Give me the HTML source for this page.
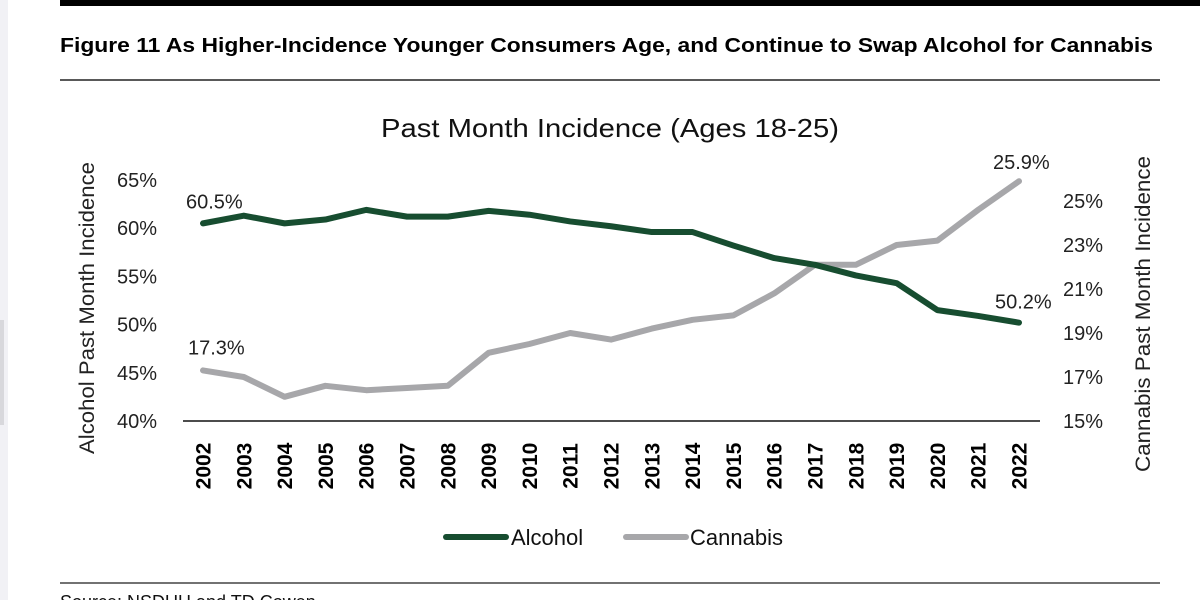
<!DOCTYPE html>
<html><head><meta charset="utf-8"><style>
html,body{margin:0;padding:0;background:#fff;width:1200px;height:600px;overflow:hidden}
svg{display:block;font-family:"Liberation Sans",sans-serif}
</style></head><body>
<svg width="1200" height="600" viewBox="0 0 1200 600">
<rect x="0" y="0" width="8" height="600" fill="#f1f1f5"/>
<rect x="0" y="320" width="4" height="105" fill="#d8d8dc"/>
<rect x="60" y="0" width="1140" height="6" fill="#000"/>
<text x="60" y="52" font-size="20" font-weight="bold" textLength="1093" lengthAdjust="spacingAndGlyphs">Figure 11 As Higher-Incidence Younger Consumers Age, and Continue to Swap Alcohol for Cannabis</text>
<line x1="60" y1="80" x2="1160" y2="80" stroke="#222" stroke-width="1.5"/>
<text x="610" y="137" font-size="26" text-anchor="middle" fill="#111" textLength="458" lengthAdjust="spacingAndGlyphs">Past Month Incidence (Ages 18-25)</text>
<g id="axes"></g>
<g id="marks"></g>
<line x1="60" y1="583" x2="1160" y2="583" stroke="#444" stroke-width="1.5"/>
<text x="60" y="608" font-size="18" fill="#111">Source: NSDUH and TD Cowen</text>
</svg>
<script>
const years=[2002,2003,2004,2005,2006,2007,2008,2009,2010,2011,2012,2013,2014,2015,2016,2017,2018,2019,2020,2021,2022];
const alcohol=[60.5,61.3,60.5,60.9,61.9,61.2,61.2,61.8,61.4,60.7,60.2,59.6,59.6,58.2,56.9,56.2,55.1,54.3,51.5,50.9,50.2];
const cannabis=[17.3,17.0,16.1,16.6,16.4,16.5,16.6,18.1,18.5,19.0,18.7,19.2,19.6,19.8,20.8,22.1,22.1,23.0,23.2,24.6,25.9];
const leftTicks=[40,45,50,55,60,65];
const rightTicks=[15,17,19,21,23,25];
const NS="http://www.w3.org/2000/svg";
const x=i=>203+i*40.8;
const yL=v=>421-(v-40)*9.64;
const yR=v=>421-(v-15)*22;
function mk(t,a,p,txt){const e=document.createElementNS(NS,t);for(const k in a)e.setAttribute(k,a[k]);if(txt!==undefined)e.textContent=txt;p.appendChild(e);return e;}
const ax=document.getElementById('axes'),mg=document.getElementById('marks');
leftTicks.forEach(v=>{const t=mk('text',{x:157,y:yL(v)+7,'font-size':20,'text-anchor':'end',fill:'#222'},ax,v+'%');

});
rightTicks.forEach(v=>{const t=mk('text',{x:1063,y:yR(v)+7,'font-size':20,fill:'#222'},ax,v+'%');

});
const base=mk('line',{x1:183,y1:421,x2:1040,y2:421,stroke:'#111','stroke-width':1.5},ax);


years.forEach((yr,i)=>{const t=mk('text',{x:0,y:0,'font-size':21,'font-weight':'bold','text-anchor':'middle',transform:`translate(${x(i)+7.5},466) rotate(-90)`},ax,yr);

});
let t1=mk('text',{x:0,y:0,'font-size':21,'text-anchor':'middle',fill:'#222',transform:'translate(94,308) rotate(-90)',textLength:292,lengthAdjust:'spacingAndGlyphs'},ax,'Alcohol Past Month Incidence');


let t2=mk('text',{x:0,y:0,'font-size':21,'text-anchor':'middle',fill:'#222',transform:'translate(1150,314) rotate(-90)',textLength:316,lengthAdjust:'spacingAndGlyphs'},ax,'Cannabis Past Month Incidence');


const pc=mk('polyline',{points:cannabis.map((v,i)=>x(i)+','+yR(v)).join(' '),fill:'none',stroke:'#a7a7aa','stroke-width':6,'stroke-linecap':'round','stroke-linejoin':'round'},mg);


const pa=mk('polyline',{points:alcohol.map((v,i)=>x(i)+','+yL(v)).join(' '),fill:'none',stroke:'#174d30','stroke-width':6,'stroke-linecap':'round','stroke-linejoin':'round'},mg);


const n=years.length-1;
let l;
l=mk('text',{x:186,y:yL(alcohol[0])-15,'font-size':20,fill:'#222'},mg,alcohol[0].toFixed(1)+'%');


l=mk('text',{x:995,y:yL(alcohol[n])-14,'font-size':20,fill:'#222'},mg,alcohol[n].toFixed(1)+'%');


l=mk('text',{x:188,y:yR(cannabis[0])-16,'font-size':20,fill:'#222'},mg,cannabis[0].toFixed(1)+'%');


l=mk('text',{x:993,y:yR(cannabis[n])-12,'font-size':20,fill:'#222'},mg,cannabis[n].toFixed(1)+'%');


let g=mk('g',{},mg);


mk('line',{x1:446,y1:537,x2:506,y2:537,stroke:'#174d30','stroke-width':6,'stroke-linecap':'round'},g);
mk('text',{x:511,y:545,'font-size':22,fill:'#111'},g,'Alcohol');
g=mk('g',{},mg);


mk('line',{x1:626,y1:537,x2:686,y2:537,stroke:'#a7a7aa','stroke-width':6,'stroke-linecap':'round'},g);
mk('text',{x:690,y:545,'font-size':22,fill:'#111'},g,'Cannabis');
</script>
</body></html>
